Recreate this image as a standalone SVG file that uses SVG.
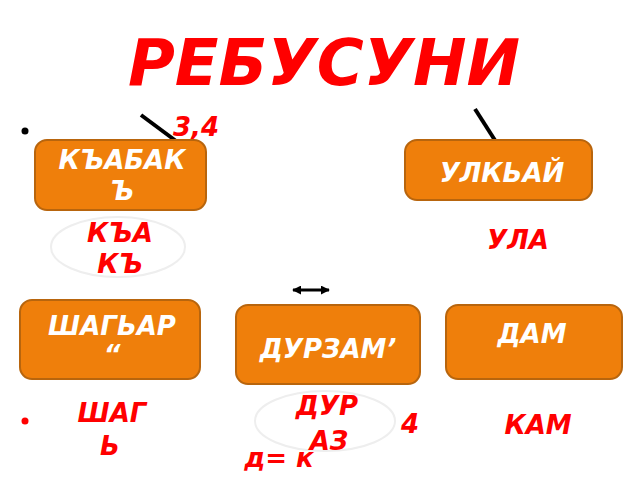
<svg xmlns="http://www.w3.org/2000/svg" width="640" height="480" viewBox="0 0 640 480">
<defs>
<style>
.box{fill:#ef7f0b;stroke:#b8650d;stroke-width:2}
.w{fill:#fff;font-family:"DejaVu Sans",sans-serif;font-weight:bold;font-style:italic;font-size:26px;text-anchor:middle}
.r{fill:#f00;font-family:"DejaVu Sans",sans-serif;font-weight:bold;font-style:italic;font-size:26px;text-anchor:middle}
.ell{fill:#fff;stroke:#eee;stroke-width:2}
</style>
<marker id="ah" viewBox="0 0 10 10" refX="9" refY="5" markerWidth="3" markerHeight="3" orient="auto-start-reverse"><path d="M0,0L10,5L0,10z" fill="#000"/></marker>
</defs>
<rect width="640" height="480" fill="#fff"/>
<text x="324" y="85" fill="#f00" font-family="DejaVu Sans,sans-serif" font-weight="bold" font-style="italic" font-size="64" text-anchor="middle">РЕБУСУНИ</text>
<circle cx="25" cy="131" r="3.5" fill="#000"/>
<circle cx="25" cy="421" r="3.5" fill="#f00"/>
<g id="connectors">
<line x1="141" y1="115" x2="176" y2="141" stroke="#000" stroke-width="4"/>
<line x1="475" y1="109" x2="498" y2="145" stroke="#000" stroke-width="4"/>
<line x1="293" y1="290" x2="329" y2="290" stroke="#000" stroke-width="3" marker-start="url(#ah)" marker-end="url(#ah)"/>
</g>
<text class="r" x="196" y="136">3,4</text>
<g id="n1"><rect class="box" x="35" y="140" width="171" height="70" rx="12"/>
<text class="w" x="122" y="169">КЪАБАК</text><text class="w" x="122" y="200">Ъ</text></g>
<g id="n2"><rect class="box" x="405" y="140" width="187" height="60" rx="12"/>
<text class="w" x="502" y="182">УЛКЬАЙ</text></g>
<g id="e1"><ellipse class="ell" cx="118" cy="247" rx="67" ry="30"/>
<text class="r" x="120" y="242">КЪА</text><text class="r" x="120" y="273">КЪ</text></g>
<text class="r" x="518" y="249">УЛА</text>
<g id="n3"><rect class="box" x="20" y="300" width="180" height="79" rx="12"/>
<text class="w" x="112" y="335">ШАГЬАР</text><text class="w" x="112" y="364">“</text></g>
<g id="n4"><rect class="box" x="236" y="305" width="184" height="79" rx="12"/>
<text class="w" x="328" y="358">ДУРЗАМ’</text></g>
<g id="n5"><rect class="box" x="446" y="305" width="176" height="74" rx="12"/>
<text class="w" x="532" y="343">ДАМ</text></g>
<text class="r" x="112" y="422">ШАГ</text><text class="r" x="110" y="455">Ь</text>
<g id="e2"><ellipse class="ell" cx="325" cy="421" rx="70" ry="30"/>
<text class="r" x="327" y="415">ДУР</text><text class="r" x="329" y="450">АЗ</text></g>
<text class="r" x="410" y="433">4</text>
<text class="r" x="538" y="434" font-size="31">КАМ</text>
<text class="r" x="279" y="467">д= к</text>
</svg>
